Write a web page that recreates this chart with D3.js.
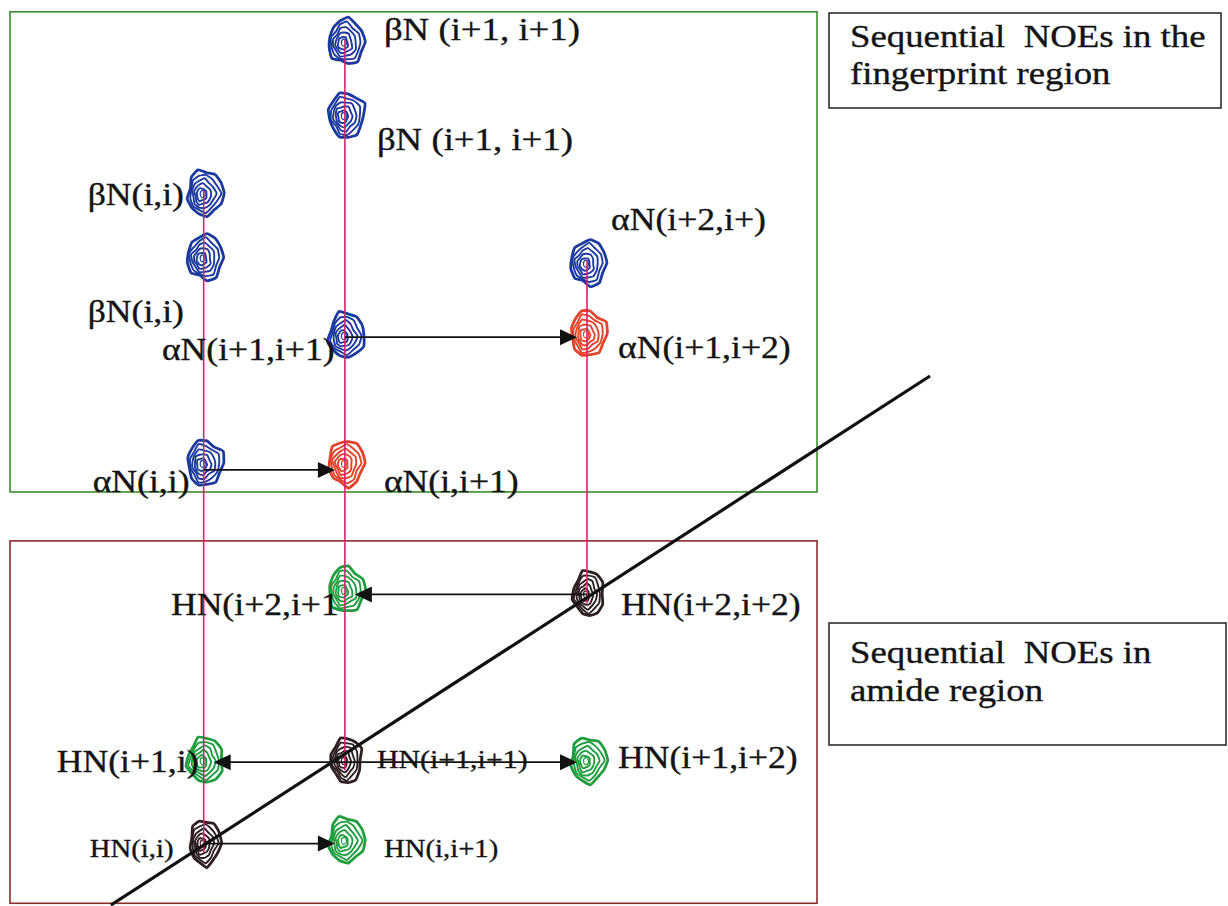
<!DOCTYPE html>
<html><head><meta charset="utf-8">
<script src="https://cdn.jsdelivr.net/npm/d3@7"></script>
<style>body{margin:0;background:#fff}svg{display:block}</style>
</head><body>
<svg id="chart" width="1228" height="906"></svg>
<script>
// ---------------- DATA ----------------
// F2 (direct, horizontal) chemical shift of the amide proton of residues i, i+1, i+2
const columnShift = [8.52, 8.17, 7.57];
// peaks: column index, F1 (vertical) shift, kind
const peakColumn = [0, 0, 0, 0, 0,   1, 1, 1, 1, 1, 1, 1,   2, 2, 2, 2];
const peakShift  = [2.63, 3.34, 5.61, 8.89, 9.80,
                    0.96, 1.77, 4.20, 5.61, 7.01, 8.89, 9.77,
                    3.40, 4.18, 7.05, 8.89];
const peakKind   = ["beta", "beta", "alpha", "hnCross", "diag",
                    "beta", "beta", "alpha", "alphaSeq", "hnCross", "diag", "hnCross",
                    "beta", "alphaSeq", "diag", "hnCross"];
const peakLabel  = ["βN(i,i)", "βN(i,i)", "αN(i,i)", "HN(i+1,i)", "HN(i,i)",
                    "βN (i+1, i+1)", "βN (i+1, i+1)", "αN(i+1,i+1)", "αN(i,i+1)", "HN(i+2,i+1", "HN(i+1,i+1)", "HN(i,i+1)",
                    "αN(i+2,i+)", "αN(i+1,i+2)", "HN(i+2,i+2)", "HN(i+1,i+2)"];
// sequential NOE walk arrows (peak index -> peak index)
const arrowFrom = [2, 7, 14, 10, 10, 4];
const arrowTo   = [8, 13, 9, 3, 15, 11];
// diagonal
const diagonalF2 = [8.75, 6.72];
const diagonalF1 = [10.49, 4.65];
// regions
const regionNames = [["Sequential  NOEs in the", "fingerprint region"], ["Sequential  NOEs in", "amide region"]];
const regionF1From = [0.63, 6.47];
const regionF1To   = [5.93, 10.47];

// ---------------- LAYOUT ----------------
const svg = d3.select("#chart");
const x = d3.scaleLinear().domain([9.0, 7.0]).range([10, 817]);
const y = d3.scaleLinear().domain([0.5, 10.5]).range([0, 906]);

const kindColor = {beta: "#1c3a9e", alpha: "#1c3a9e", alphaSeq: "#e4432b", hnCross: "#1f9e3f", diag: "#2e2020"};
const regionColor = ["#3d8c2a", "#8e2b2b"];
const peaks = peakColumn.map((c, i) => ({c, f2: columnShift[c], f1: peakShift[i], kind: peakKind[i], label: peakLabel[i], i}));

// label offsets (pixels from peak centre) and font sizes
const labelOffset = [[-116, 12], [-116, 65], [-111, 29], [-147, 12], [-114, 14],
                     [39, -2], [32, 35], [-183, 25], [39, 29], [-174, 25], [32, 8], [39, 17],
                     [24, -33], [31, 25], [34, 22], [31, 8]];
const labelSize = [31, 31, 31, 31, 25,  32, 32, 31, 31, 31, 26, 25,  31, 31, 31, 31];
const arrowDy = [7, 2, 1, 2, 2, 1];
const textStretch = 1.15;

// region boxes
const boxes = svg.append("g");
regionF1From.forEach((f, k) => {
  boxes.append("rect")
    .attr("x", x(9.0)).attr("y", y(f))
    .attr("width", x(7.0) - x(9.0)).attr("height", y(regionF1To[k]) - y(f))
    .attr("fill", "none").attr("stroke", regionColor[k]).attr("stroke-width", 1.6);
});

const fontFam = "Liberation Serif, Times New Roman, serif";
// legend boxes on the right
const legendBox = [[829, 13, 392, 95], [829, 623, 397, 122]];
const legendBaselines = [[47, 84], [663, 701]];
regionNames.forEach((lines, k) => {
  const [bx, by, bw, bh] = legendBox[k];
  svg.append("rect").attr("x", bx).attr("y", by).attr("width", bw).attr("height", bh)
    .attr("fill", "none").attr("stroke", "#222").attr("stroke-width", 1.5);
  lines.forEach((t, j) => {
    svg.append("text")
      .attr("transform", `translate(${bx + 21},${legendBaselines[k][j]}) scale(${textStretch},1)`)
      .attr("font-family", fontFam)
      .attr("font-size", 32).attr("fill", "#141414")
      .attr("stroke", "#141414").attr("stroke-width", 0.35)
      .style("white-space", "pre")
      .text(t);
  });
});

// contour peaks
function ring(rx, ry, k, seed) {
  const n = 13;
  const pts = d3.range(n).map(i => {
    const t = i / n * 2 * Math.PI;
    const w = 1 + 0.07 * Math.sin(5 * t + seed + k * 1.1) + 0.05 * Math.cos(3 * t + 2 * seed) + 0.04 * Math.sin(9 * t + k);
    const bulge = Math.cos(t) > 0 ? 1.06 : 0.97;
    return [Math.cos(t) * rx * w * bulge, Math.sin(t) * ry * w];
  });
  return d3.line().curve(d3.curveCardinalClosed.tension(0.55))(pts);
}
const pg = svg.append("g");
peaks.forEach((p, idx) => {
  const g = pg.append("g").attr("transform", `translate(${x(p.f2) + 1},${y(p.f1)})`);
  const col = kindColor[p.kind];
  const rx = p.kind === "diag" ? 15 : 17.5, ry = 22.5;
  for (let k = 0; k < 5; k++) {
    const s = 1 - k * 0.18;
    g.append("path")
      .attr("transform", `translate(${-k * 0.8},${k * 0.4})`)
      .attr("d", ring(rx * s, ry * s, k, idx * 1.7))
      .attr("fill", k === 0 ? "#fff" : "none")
      .attr("stroke", col).attr("stroke-width", k === 0 ? 2.8 : 1.9);
  }
  g.append("ellipse").attr("cx", -2).attr("cy", 1).attr("rx", 2.5).attr("ry", 3.5)
    .attr("fill", "#fff").attr("stroke", col).attr("stroke-width", 1.2);
});

// magenta connecting lines: from top peak of each column to its diagonal peak (drawn over contours)
columnShift.forEach((s, c) => {
  const col = peaks.filter(p => p.c === c);
  const top = d3.min(col, p => p.f1);
  const diag = col.find(p => p.kind === "diag").f1;
  svg.append("line")
    .attr("x1", x(s)).attr("x2", x(s))
    .attr("y1", y(top) - 2).attr("y2", y(diag) + 10)
    .attr("stroke", "#d8206e").attr("stroke-width", 1.6);
});

// diagonal line
svg.append("line")
  .attr("x1", x(diagonalF2[0])).attr("y1", y(diagonalF1[0]))
  .attr("x2", x(diagonalF2[1])).attr("y2", y(diagonalF1[1]))
  .attr("stroke", "#111").attr("stroke-width", 3.2);

// arrows
const ag = svg.append("g");
arrowFrom.forEach((a, k) => {
  const pa = peaks[a], pb = peaks[arrowTo[k]];
  const x1 = x(pa.f2), x2 = x(pb.f2);
  const dir = Math.sign(x2 - x1);
  const yy = y(pa.f1) + arrowDy[k];
  const tip = x2 - dir * 10;
  ag.append("line").attr("x1", x1).attr("x2", tip - dir * 12).attr("y1", yy).attr("y2", yy)
    .attr("stroke", "#111").attr("stroke-width", 1.8);
  ag.append("path")
    .attr("d", `M${tip},${yy} L${tip - dir * 17},${yy - 8} L${tip - dir * 17},${yy + 8} Z`)
    .attr("fill", "#111");
});

// labels
const lg = svg.append("g");
peaks.forEach((p, i) => {
  const [dx, dy] = labelOffset[i];
  lg.append("text")
    .attr("transform", `translate(${x(p.f2) + dx},${y(p.f1) + dy}) scale(${textStretch},1)`)
    .attr("font-family", fontFam)
    .attr("font-size", labelSize[i]).attr("fill", "#141414")
    .attr("stroke", "#141414").attr("stroke-width", 0.35)
    .text(p.label);
});
</script>
</body></html>
